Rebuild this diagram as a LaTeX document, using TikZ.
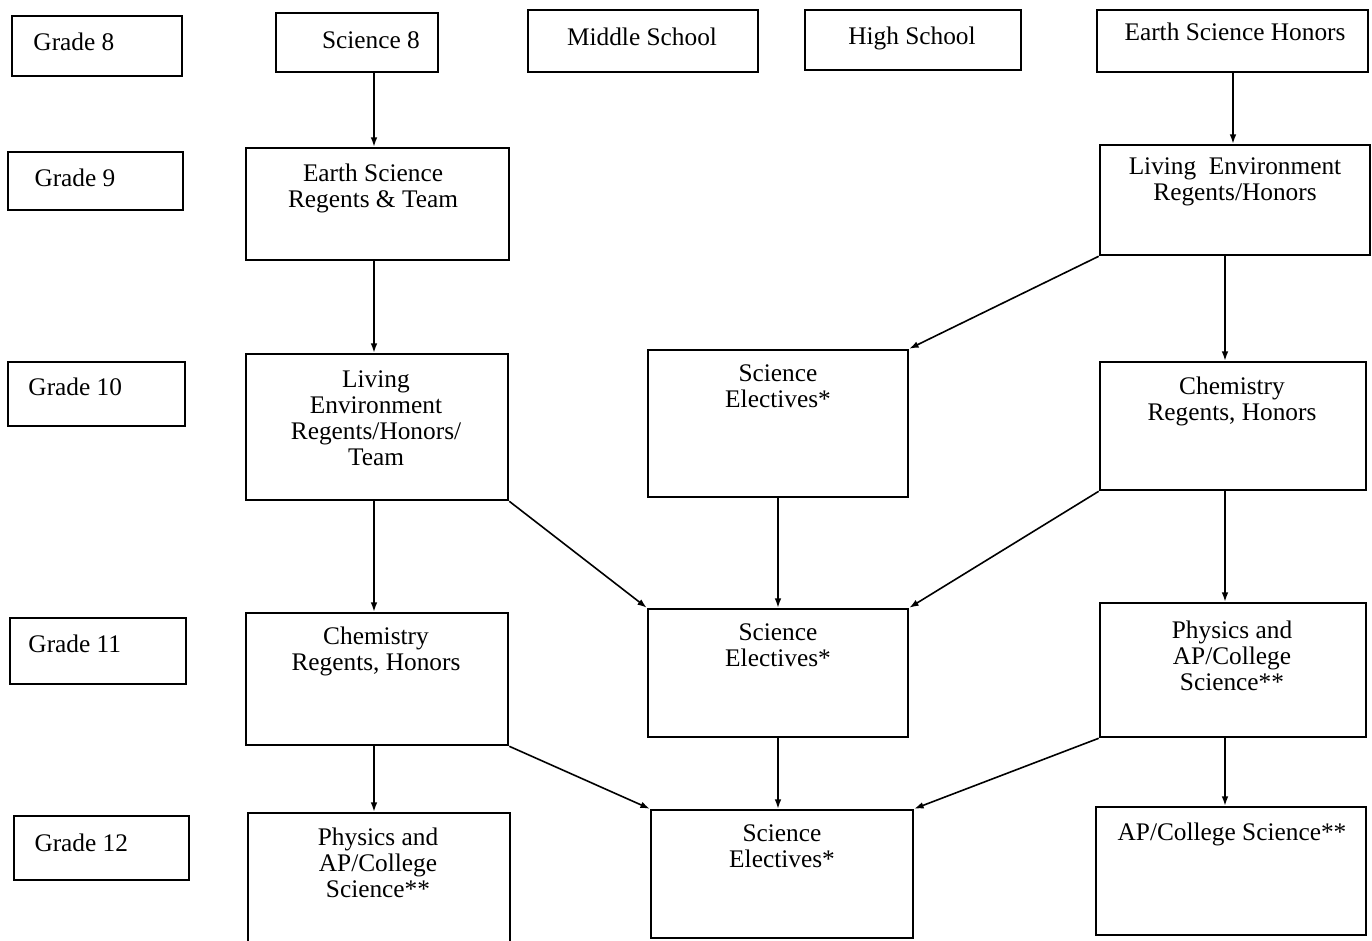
\documentclass[tikz,border=0pt]{standalone}
\usepackage{fontspec}
\setmainfont{Liberation Serif}
\usetikzlibrary{fit,arrows.meta}

\tikzset{every picture/.style={line width=0.75pt}}
\tikzset{
  box/.style={draw, line width=1.9pt, inner sep=0pt},
  lbl/.style={inner sep=0pt, align=center, font=\fontsize{19}{19.5}\selectfont},
  arr/.style={-{Latex[length=7pt,width=5pt]}, line width=1.2pt}
}

\begin{document}
\begin{tikzpicture}[x=0.75pt,y=0.75pt,yscale=-1,xscale=1]
\useasboundingbox (0,0) rectangle (1372,940);

%Grade boxes
\node[box, fit={(12,16) (182,76)}] (g8) {};
\node[box, fit={(8,152) (183,210)}] (g9) {};
\node[box, fit={(8,362) (185,426)}] (g10) {};
\node[box, fit={(10,618) (186,684)}] (g11) {};
\node[box, fit={(14,816) (189,880)}] (g12) {};

%Top row
\node[box, fit={(276,13) (438,72)}] (sci8) {};
\node[box, fit={(528,10) (758,72)}] (mid) {};
\node[box, fit={(805,10) (1021,70)}] (high) {};
\node[box, fit={(1097,10) (1368,72)}] (eshon) {};

%Course boxes
\node[box, fit={(246,148) (509,260)}] (earth9) {};
\node[box, fit={(1100,145) (1370,255)}] (livenv9) {};
\node[box, fit={(246,354) (508,500)}] (livenv10) {};
\node[box, fit={(648,350) (908,497)}] (sciel10) {};
\node[box, fit={(1100,362) (1366,490)}] (chem10) {};
\node[box, fit={(246,613) (508,745)}] (chem11) {};
\node[box, fit={(648,609) (908,737)}] (sciel11) {};
\node[box, fit={(1100,603) (1366,737)}] (phys11) {};
\node[box, fit={(248,813) (510,948)}] (phys12) {};
\node[box, fit={(651,810) (913,938)}] (sciel12) {};
\node[box, fit={(1096,807) (1366,935)}] (apcol12) {};

% Text Node (anchor at baseline of last line)
\node[lbl, anchor=base west] (t-g8) at (33,50) {Grade 8};
\node[lbl, anchor=base west] (t-g9) at (34,186) {Grade 9};
\node[lbl, anchor=base west] (t-g10) at (28,395) {Grade 10};
\node[lbl, anchor=base west] (t-g11) at (28,652) {Grade 11};
\node[lbl, anchor=base west] (t-g12) at (34,851) {Grade 12};

\node[lbl, anchor=base] (t-sci8) at (371,48) {Science 8};
\node[lbl, anchor=base] (t-mid) at (642,45) {Middle School};
\node[lbl, anchor=base] (t-high) at (912,44) {High School};
\node[lbl, anchor=base] (t-eshon) at (1235,40) {Earth Science Honors};

\node[lbl, anchor=base] (t-earth9) at (373,207) {Earth Science\\Regents \& Team};
\node[lbl, anchor=base] (t-livenv9) at (1235,200) {Living\ \ Environment\\Regents/Honors};
\node[lbl, anchor=base] (t-livenv10) at (376,465) {Living\\Environment\\Regents/Honors/\\Team};
\node[lbl, anchor=base] (t-sciel10) at (778,407) {Science\\Electives*};
\node[lbl, anchor=base] (t-chem10) at (1232,420) {Chemistry\\Regents, Honors};
\node[lbl, anchor=base] (t-chem11) at (376,670) {Chemistry\\Regents, Honors};
\node[lbl, anchor=base] (t-sciel11) at (778,666) {Science\\Electives*};
\node[lbl, anchor=base] (t-phys11) at (1232,690) {Physics and\\AP/College\\Science**};
\node[lbl, anchor=base] (t-phys12) at (378,897) {Physics and\\AP/College\\Science**};
\node[lbl, anchor=base] (t-sciel12) at (782,867) {Science\\Electives*};
\node[lbl, anchor=base] (t-apcol12) at (1232,840) {AP/College Science**};

%Column lines
\coordinate (c2) at (374,0);
\coordinate (c3) at (778,0);
\coordinate (c5a) at (1233,0);
\coordinate (c5b) at (1225,0);

%Straight Lines
\draw[arr] (sci8.south -| c2) -- (earth9.north -| c2);
\draw[arr] (earth9.south -| c2) -- (livenv10.north -| c2);
\draw[arr] (livenv10.south -| c2) -- (chem11.north -| c2);
\draw[arr] (chem11.south -| c2) -- (phys12.north -| c2);
\draw[arr] (livenv10.south east) -- (sciel11.north west);
\draw[arr] (chem11.south east) -- (sciel12.north west);
\draw[arr] (sciel10.south -| c3) -- (sciel11.north -| c3);
\draw[arr] (sciel11.south -| c3) -- (sciel12.north -| c3);
\draw[arr] (eshon.south -| c5a) -- (livenv9.north -| c5a);
\draw[arr] (livenv9.south -| c5b) -- (chem10.north -| c5b);
\draw[arr] (chem10.south -| c5b) -- (phys11.north -| c5b);
\draw[arr] (phys11.south -| c5b) -- (apcol12.north -| c5b);
\draw[arr] (livenv9.south west) -- (sciel10.north east);
\draw[arr] (chem10.south west) -- (sciel11.north east);
\draw[arr] (phys11.south west) -- (sciel12.north east);

\end{tikzpicture}
\end{document}
